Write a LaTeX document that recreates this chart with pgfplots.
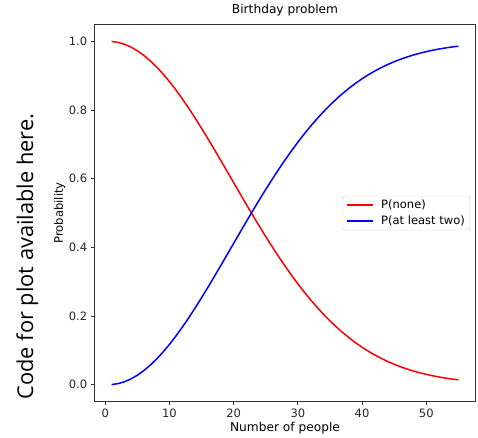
\documentclass[border=0pt]{standalone}
\usepackage{fontspec}
\setmainfont{DejaVu Sans}
\newfontfamily\notefont{Open Sans}
\usepackage{pgfplots}
\usepackage{pgfplotstable}
\pgfplotsset{compat=1.18}

% n, P(none), P(at least two)
\pgfplotstableread{
n pnone ptwo
1 1.000000 0.000000
2 0.997260 0.002740
3 0.991796 0.008204
4 0.983644 0.016356
5 0.972864 0.027136
6 0.959538 0.040462
7 0.943764 0.056236
8 0.925665 0.074335
9 0.905376 0.094624
10 0.883052 0.116948
11 0.858859 0.141141
12 0.832975 0.167025
13 0.805590 0.194410
14 0.776897 0.223103
15 0.747099 0.252901
16 0.716396 0.283604
17 0.684992 0.315008
18 0.653089 0.346911
19 0.620881 0.379119
20 0.588562 0.411438
21 0.556312 0.443688
22 0.524305 0.475695
23 0.492703 0.507297
24 0.461656 0.538344
25 0.431300 0.568700
26 0.401759 0.598241
27 0.373141 0.626859
28 0.345539 0.654461
29 0.319031 0.680969
30 0.293684 0.706316
31 0.269545 0.730455
32 0.246652 0.753348
33 0.225028 0.774972
34 0.204683 0.795317
35 0.185617 0.814383
36 0.167818 0.832182
37 0.151266 0.848734
38 0.135932 0.864068
39 0.121780 0.878220
40 0.108768 0.891232
41 0.096848 0.903152
42 0.085970 0.914030
43 0.076077 0.923923
44 0.067115 0.932885
45 0.059024 0.940976
46 0.051747 0.948253
47 0.045226 0.954774
48 0.039402 0.960598
49 0.034220 0.965780
50 0.029626 0.970374
51 0.025568 0.974432
52 0.021995 0.978005
53 0.018862 0.981138
54 0.016123 0.983877
55 0.013738 0.986262
}\birthday

\begin{document}
\begin{tikzpicture}
\path[use as bounding box] (0pt,0pt) rectangle (478pt,437pt);
\begin{axis}[
  at={(94.3pt,35.3pt)}, anchor=south west,
  scale only axis,
  width=381.4pt, height=377.4pt,
  xmin=-1.7, xmax=57.7,
  ymin=-0.05, ymax=1.05,
  xtick={0,10,20,30,40,50},
  ytick={0,0.2,0.4,0.6,0.8,1.0},
  y tick label style={/pgf/number format/fixed, /pgf/number format/fixed zerofill, /pgf/number format/precision=1},
  /pgf/number format/assume math mode=true,
  tick align=outside,
  major tick length=3.5pt,
  tick style={black!80, line width=0.8pt},
  xtick pos=bottom, ytick pos=left,
  axis line style={black!80, line width=0.8pt},
  ticklabel style={font=\fontsize{11.5}{13}\selectfont, black!85, inner sep=0pt},
  yticklabel style={xshift=-3.5pt},
  xticklabel style={yshift=-3.5pt},
  title={Birthday problem},
  title style={font=\fontsize{12.2}{14}\selectfont, anchor=base, at={(0.5,1)}, yshift=5pt},
  xlabel={Number of people},
  xlabel style={font=\fontsize{12.2}{14}\selectfont, anchor=base, at={(0.5,0)}, yshift=-29.5pt},
  ylabel={Probability},
  ylabel style={font=\fontsize{11.6}{14}\selectfont},
  legend style={
    at={(0.985,0.5)}, anchor=east,
    draw=black!20, rounded corners=2pt,
    font=\fontsize{11.5}{13}\selectfont,
    inner xsep=3pt, inner ysep=2pt,
    row sep=1.5pt,
  },
  legend cell align=left,
  legend image code/.code={\draw[#1] (0pt,0pt) -- (26.7pt,0pt);},
]
\addplot[red, line width=1.5pt] table[x=n, y=pnone] {\birthday};
\addlegendentry{\hspace{5pt}P(none)}
\addplot[blue, line width=1.5pt] table[x=n, y=ptwo] {\birthday};
\addlegendentry{\hspace{5pt}P(at least two)}
\end{axis}
\node[rotate=90, anchor=base, font=\notefont\fontsize{21.8}{26}\selectfont] at (33pt,180.5pt) {Code for plot available here.};
\end{tikzpicture}
\end{document}
